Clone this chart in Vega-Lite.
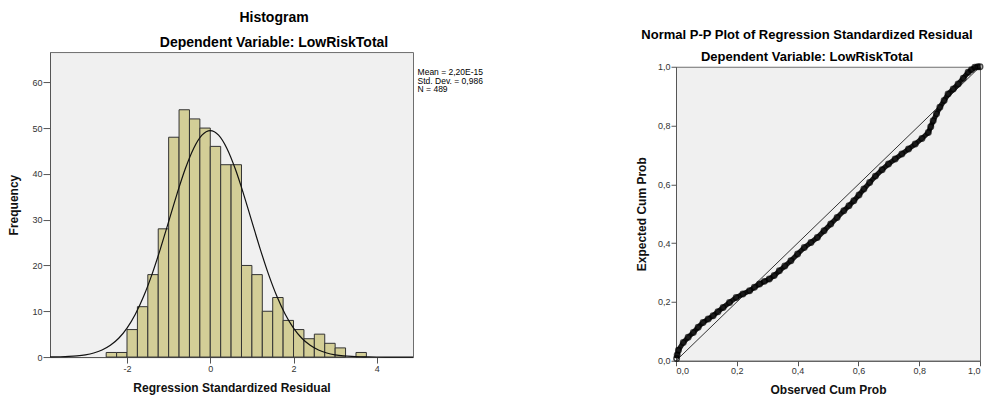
{
  "$schema": "https://vega.github.io/schema/vega-lite/v6.json",
  "background": "white",
  "padding": {"left": 7, "top": 10, "right": 0, "bottom": 0},
  "autosize": {"type": "pad"},
  "config": {
    "font": "Liberation Sans",
    "view": {"fill": "#F0F0F0", "stroke": "#6E6E6E", "strokeWidth": 1},
    "axis": {"grid": false, "labelFont": "Liberation Sans", "labelFontSize": 9, "labelColor": "#333333", "titleFont": "Liberation Sans", "titleFontSize": 12, "titleFontWeight": "bold", "titleColor": "#111111", "domainColor": "#555555", "tickColor": "#555555", "labelPadding": 1},
    "title": {"font": "Liberation Sans", "fontWeight": "bold", "color": "#000000", "subtitleFont": "Liberation Sans", "subtitleFontWeight": "bold", "subtitleColor": "#000000"}
  },
  "spacing": 150,
  "center": true,
  "hconcat": [
    {
      "width": 363,
      "height": 305,
      "title": {"text": "Histogram", "subtitle": "Dependent Variable: LowRiskTotal", "fontSize": 14, "subtitleFontSize": 14, "subtitlePadding": 11, "offset": 2.5, "dx": 42.5},
      "layer": [
        {
          "data": {"values": [
            {"bin_start": -2.5, "bin_end": -2.25, "count": 1},
            {"bin_start": -2.25, "bin_end": -2.0, "count": 1},
            {"bin_start": -2.0, "bin_end": -1.75, "count": 6},
            {"bin_start": -1.75, "bin_end": -1.5, "count": 11},
            {"bin_start": -1.5, "bin_end": -1.25, "count": 18},
            {"bin_start": -1.25, "bin_end": -1.0, "count": 28},
            {"bin_start": -1.0, "bin_end": -0.75, "count": 48},
            {"bin_start": -0.75, "bin_end": -0.5, "count": 54},
            {"bin_start": -0.5, "bin_end": -0.25, "count": 52},
            {"bin_start": -0.25, "bin_end": 0.0, "count": 50},
            {"bin_start": 0.0, "bin_end": 0.25, "count": 46},
            {"bin_start": 0.25, "bin_end": 0.5, "count": 42},
            {"bin_start": 0.5, "bin_end": 0.75, "count": 42},
            {"bin_start": 0.75, "bin_end": 1.0, "count": 20},
            {"bin_start": 1.0, "bin_end": 1.25, "count": 18},
            {"bin_start": 1.25, "bin_end": 1.5, "count": 10},
            {"bin_start": 1.5, "bin_end": 1.75, "count": 13},
            {"bin_start": 1.75, "bin_end": 2.0, "count": 8},
            {"bin_start": 2.0, "bin_end": 2.25, "count": 6},
            {"bin_start": 2.25, "bin_end": 2.5, "count": 4},
            {"bin_start": 2.5, "bin_end": 2.75, "count": 5},
            {"bin_start": 2.75, "bin_end": 3.0, "count": 3},
            {"bin_start": 3.0, "bin_end": 3.25, "count": 2},
            {"bin_start": 3.5, "bin_end": 3.75, "count": 1}
          ]},
          "mark": {"type": "rect", "fill": "#D3CE97", "stroke": "#333333", "strokeWidth": 1},
          "encoding": {
            "x": {"field": "bin_start", "type": "quantitative", "scale": {"domain": [-3.85, 4.87], "nice": false, "zero": false},
                  "axis": {"values": [-2, 0, 2, 4], "labelExpr": "'' + datum.value", "title": ["Regression Standardized Residual", ""], "titleLineHeight": 17.4, "tickSize": 6, "titlePadding": 9}},
            "x2": {"field": "bin_end"},
            "y": {"field": "count", "type": "quantitative", "scale": {"domain": [0, 66.6], "nice": false},
                  "axis": {"values": [0, 10, 20, 30, 40, 50, 60], "labelExpr": "'' + datum.value", "title": "Frequency", "tickSize": 7, "titlePadding": 11}},
            "y2": {"datum": 0}
          }
        },
        {
          "data": {"values": [
            {"z": -3.85, "freq": 0.024}, {"z": -3.6, "freq": 0.063}, {"z": -3.4, "freq": 0.129}, {"z": -3.2, "freq": 0.255},
            {"z": -3.0, "freq": 0.483}, {"z": -2.8, "freq": 0.877}, {"z": -2.6, "freq": 1.529}, {"z": -2.4, "freq": 2.557},
            {"z": -2.2, "freq": 4.104}, {"z": -2.0, "freq": 6.321}, {"z": -1.8, "freq": 9.345}, {"z": -1.6, "freq": 13.26},
            {"z": -1.4, "freq": 18.05}, {"z": -1.2, "freq": 23.58}, {"z": -1.0, "freq": 29.57}, {"z": -0.8, "freq": 35.59},
            {"z": -0.6, "freq": 41.10}, {"z": -0.4, "freq": 45.55}, {"z": -0.2, "freq": 48.45}, {"z": 0.0, "freq": 49.46},
            {"z": 0.2, "freq": 48.45}, {"z": 0.4, "freq": 45.55}, {"z": 0.6, "freq": 41.10}, {"z": 0.8, "freq": 35.59},
            {"z": 1.0, "freq": 29.57}, {"z": 1.2, "freq": 23.58}, {"z": 1.4, "freq": 18.05}, {"z": 1.6, "freq": 13.26},
            {"z": 1.8, "freq": 9.345}, {"z": 2.0, "freq": 6.321}, {"z": 2.2, "freq": 4.104}, {"z": 2.4, "freq": 2.557},
            {"z": 2.6, "freq": 1.529}, {"z": 2.8, "freq": 0.877}, {"z": 3.0, "freq": 0.483}, {"z": 3.2, "freq": 0.255},
            {"z": 3.4, "freq": 0.129}, {"z": 3.6, "freq": 0.063}, {"z": 3.8, "freq": 0.029}, {"z": 4.0, "freq": 0.013},
            {"z": 4.4, "freq": 0.002}, {"z": 4.87, "freq": 0.0002}
          ]},
          "mark": {"type": "line", "color": "#111111", "strokeWidth": 1.2, "interpolate": "monotone"},
          "encoding": {
            "x": {"field": "z", "type": "quantitative"},
            "y": {"field": "freq", "type": "quantitative"}
          }
        },
        {
          "data": {"values": [{"stats": "Mean = 2,20E-15\nStd. Dev. = 0,986\nN = 489"}]},
          "mark": {"type": "text", "align": "left", "baseline": "top", "fontSize": 8.5, "lineHeight": 8.6, "lineBreak": "\n", "color": "#000000", "font": "Liberation Sans"},
          "encoding": {
            "x": {"datum": 4.98},
            "y": {"datum": 63.1},
            "text": {"field": "stats", "type": "nominal"}
          }
        }
      ]
    },
    {
      "width": 304,
      "height": 294,
      "title": {"text": "Normal P-P Plot of Regression Standardized Residual", "subtitle": "Dependent Variable: LowRiskTotal", "fontSize": 13, "subtitleFontSize": 13, "subtitlePadding": 8.4, "offset": 3, "dx": -21, "dy": 9.8},
      "layer": [
        {
          "data": {"values": [{"a": 0, "b": 0}, {"a": 1, "b": 1}]},
          "mark": {"type": "line", "color": "#333333", "strokeWidth": 1},
          "encoding": {
            "x": {"field": "a", "type": "quantitative", "scale": {"domain": [0, 1], "nice": false},
                  "axis": {"values": [0, 0.2, 0.4, 0.6, 0.8, 1.0], "labelExpr": "replace(format(datum.value, '.1f'), '.', ',')", "title": "Observed Cum Prob", "tickSize": 5, "titlePadding": 9}},
            "y": {"field": "b", "type": "quantitative", "scale": {"domain": [0, 1], "nice": false},
                  "axis": {"values": [0, 0.2, 0.4, 0.6, 0.8, 1.0], "labelExpr": "replace(format(datum.value, '.1f'), '.', ',')", "title": "Expected Cum Prob", "tickSize": 5, "titlePadding": 9}}
          }
        },
        {
          "data": {"name": "pp"},
          "mark": {"type": "line", "color": "#1A1A1A", "strokeWidth": 5},
          "encoding": {
            "x": {"field": "obs", "type": "quantitative"},
            "y": {"field": "exp", "type": "quantitative"}
          }
        },
        {
          "data": {"name": "pp"},
          "mark": {"type": "point", "shape": "circle", "filled": false, "color": "#000000", "strokeWidth": 1.5, "size": 30},
          "encoding": {
            "x": {"field": "obs", "type": "quantitative"},
            "y": {"field": "exp", "type": "quantitative"}
          }
        }
      ]
    }
  ],
  "datasets": {
    "pp": [
      {"obs": 0.002, "exp": 0.008}, {"obs": 0.004, "exp": 0.02}, {"obs": 0.008, "exp": 0.036},
      {"obs": 0.024, "exp": 0.062}, {"obs": 0.040, "exp": 0.080}, {"obs": 0.057, "exp": 0.096},
      {"obs": 0.073, "exp": 0.114}, {"obs": 0.089, "exp": 0.130}, {"obs": 0.106, "exp": 0.142},
      {"obs": 0.122, "exp": 0.153}, {"obs": 0.138, "exp": 0.167}, {"obs": 0.155, "exp": 0.181},
      {"obs": 0.176, "exp": 0.198}, {"obs": 0.198, "exp": 0.215}, {"obs": 0.220, "exp": 0.227},
      {"obs": 0.242, "exp": 0.238}, {"obs": 0.258, "exp": 0.250}, {"obs": 0.275, "exp": 0.261},
      {"obs": 0.291, "exp": 0.270}, {"obs": 0.307, "exp": 0.278}, {"obs": 0.323, "exp": 0.290},
      {"obs": 0.340, "exp": 0.306}, {"obs": 0.358, "exp": 0.322}, {"obs": 0.378, "exp": 0.340},
      {"obs": 0.400, "exp": 0.363}, {"obs": 0.422, "exp": 0.385}, {"obs": 0.444, "exp": 0.402},
      {"obs": 0.465, "exp": 0.419}, {"obs": 0.487, "exp": 0.442}, {"obs": 0.509, "exp": 0.465},
      {"obs": 0.530, "exp": 0.487}, {"obs": 0.552, "exp": 0.510}, {"obs": 0.569, "exp": 0.527},
      {"obs": 0.585, "exp": 0.544}, {"obs": 0.602, "exp": 0.564}, {"obs": 0.618, "exp": 0.584},
      {"obs": 0.637, "exp": 0.606}, {"obs": 0.656, "exp": 0.628}, {"obs": 0.678, "exp": 0.650},
      {"obs": 0.699, "exp": 0.669}, {"obs": 0.721, "exp": 0.686}, {"obs": 0.743, "exp": 0.703},
      {"obs": 0.765, "exp": 0.720}, {"obs": 0.787, "exp": 0.737}, {"obs": 0.809, "exp": 0.756},
      {"obs": 0.830, "exp": 0.776}, {"obs": 0.838, "exp": 0.796}, {"obs": 0.846, "exp": 0.816},
      {"obs": 0.857, "exp": 0.840}, {"obs": 0.868, "exp": 0.862}, {"obs": 0.882, "exp": 0.885},
      {"obs": 0.895, "exp": 0.907}, {"obs": 0.912, "exp": 0.924}, {"obs": 0.928, "exp": 0.941},
      {"obs": 0.945, "exp": 0.961}, {"obs": 0.961, "exp": 0.981}, {"obs": 0.972, "exp": 0.990},
      {"obs": 0.983, "exp": 0.998}, {"obs": 0.993, "exp": 1.0}, {"obs": 1.0, "exp": 1.0}
    ]
  }
}
